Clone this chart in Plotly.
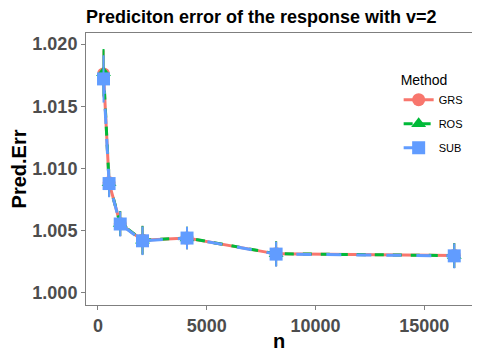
import plotly.graph_objects as go

n_values = [256, 512, 1024, 2048, 4096, 8192, 16384]

grs_err = [1.0176, 1.00885, 1.00556, 1.00424, 1.00441, 1.00314, 1.00300]
ros_err = [1.0177, 1.00885, 1.00558, 1.00424, 1.00442, 1.00315, 1.00300]
sub_err = [1.0172, 1.00879, 1.00554, 1.00419, 1.00441, 1.00312, 1.00298]

grs_sd = [0.0019, 0.0011, 0.0010, 0.00115, 0.0009, 0.0010, 0.0010]
ros_sd = [0.0019, 0.0011, 0.0010, 0.00115, 0.0009, 0.0010, 0.0010]
sub_sd = [0.0019, 0.0011, 0.0010, 0.00115, 0.0009, 0.0010, 0.0010]

x_ticks = [0, 5000, 10000, 15000]
x_ticklabels = ["0", "5000", "10000", "15000"]
y_ticks = [1.000, 1.005, 1.010, 1.015, 1.020]

SERIES = [
    ("GRS", grs_err, grs_sd, "#F8766D", "circle", "solid"),
    ("ROS", ros_err, ros_sd, "#00BA38", "triangle-up", "dash"),
    ("SUB", sub_err, sub_sd, "#619CFF", "square", "longdash"),
]

fig = go.Figure()

for name, y, sd, color, symbol, dash in SERIES:
    fig.add_trace(go.Scatter(
        x=n_values, y=y,
        name=name, legendgroup=name,
        mode="lines+markers",
        line=dict(color=color, width=3, dash=dash),
        marker=dict(color=color, symbol=symbol, size=13),
        error_y=dict(type="data", array=sd, color=color, thickness=2, width=0),
    ))

_AXIS = dict(
    showgrid=False, zeroline=False, automargin=False,
    showline=True, mirror=True, linecolor="#7F7F7F", linewidth=1,
    ticks="outside", ticklen=4, tickcolor="#7F7F7F",
    tickfont=dict(size=18, color="#4D4D4D", family="Liberation Sans", weight="bold"),
)

# page body keeps its default 8px margin, so the figure is sized to fit inside it
fig.update_layout(
    width=464, height=344,
    paper_bgcolor="white", plot_bgcolor="white",
    font=dict(family="Liberation Sans", color="black"),
    margin=dict(l=78, r=0, t=25, b=47, autoexpand=False),
    title=dict(
        text="<b>Prediciton error of the response with v=2</b>",
        x=0, xref="paper", xanchor="left",
        y=0.976, yref="container", yanchor="middle",
        font=dict(size=18, color="black"),
    ),
    xaxis=dict(
        range=[-550, 17200], tickvals=x_ticks, ticktext=x_ticklabels,
        title=dict(text="<b>n</b>", font=dict(size=20), standoff=2),
        **_AXIS,
    ),
    yaxis=dict(
        range=[0.99903, 1.02089], tickvals=y_ticks,
        tickformat=".3f",
        title=dict(text="<b>Pred.Err</b>", font=dict(size=20), standoff=4),
        **_AXIS,
    ),
    legend=dict(
        x=0.81, y=0.875, xanchor="left", yanchor="top",
        bgcolor="rgba(0,0,0,0)",
        title=dict(text="Method", font=dict(size=14)),
        font=dict(size=11),
        itemwidth=30, tracegroupgap=5, traceorder="grouped",
    ),
)

fig.write_html("out.html")
